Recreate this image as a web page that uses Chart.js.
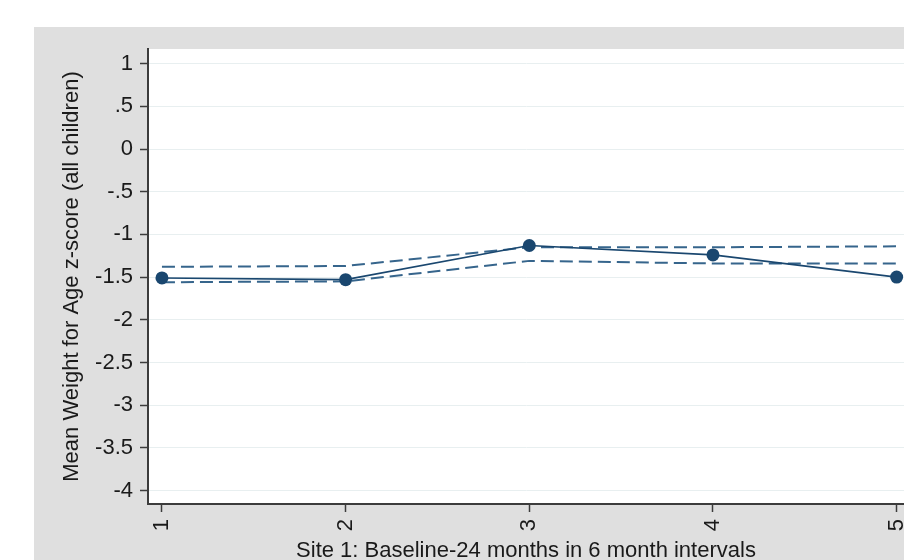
<!DOCTYPE html>
<html>
<head>
<meta charset="utf-8">
<script src="https://cdn.jsdelivr.net/npm/chart.js@4/dist/chart.umd.min.js"></script>
<style>
  html, body { margin: 0; padding: 0; background: #fff; overflow: hidden; }
  canvas { display: block; }
</style>
</head>
<body>
<canvas id="c" width="904" height="560"></canvas>
<script>
// Six-month follow-up intervals (1 = baseline)
const intervals = [1, 2, 3, 4, 5];
// Mean weight-for-age z-score and its band
const meanWAZ   = [-1.51, -1.53, -1.13, -1.24, -1.50];
const upperBand = [-1.38, -1.37, -1.15, -1.15, -1.14];
const lowerBand = [-1.56, -1.55, -1.31, -1.34, -1.34];
// Axis ticks
const yTickValues = [1, 0.5, 0, -0.5, -1, -1.5, -2, -2.5, -3, -3.5, -4];
const yTickLabels = ['1', '.5', '0', '-.5', '-1', '-1.5', '-2', '-2.5', '-3', '-3.5', '-4'];
const xTickLabels = ['1', '2', '3', '4', '5'];

const FONT = "'Liberation Sans', Arial, sans-serif";
const TEXT = '#1a1a1a';
const AXIS = '#3c3c3c';
const NAVY = '#1a476f';

const toPoints = vals => intervals.map((x, i) => ({ x, y: vals[i] }));

// Gray outer panel and white plot region
const panels = {
  id: 'panels',
  beforeDraw(chart) {
    const { ctx, chartArea: a } = chart;
    ctx.save();
    ctx.fillStyle = '#ffffff';
    ctx.fillRect(0, 0, chart.width, chart.height);
    ctx.fillStyle = '#dfdfdf';
    ctx.fillRect(34, 27, chart.width - 34, chart.height - 27);
    ctx.fillStyle = '#ffffff';
    ctx.fillRect(a.left, a.top, a.right - a.left, a.bottom - a.top);
    ctx.restore();
  }
};

new Chart(document.getElementById('c'), {
  type: 'line',
  data: {
    datasets: [
      {
        data: toPoints(meanWAZ),
        borderColor: NAVY,
        backgroundColor: NAVY,
        borderWidth: 1.6,
        pointRadius: 6.5,
        pointBorderWidth: 0,
        tension: 0,
        order: 0
      },
      {
        data: toPoints(upperBand),
        borderColor: '#36658c',
        borderWidth: 2,
        borderDash: [13, 6],
        pointRadius: 0,
        tension: 0,
        order: 1
      },
      {
        data: toPoints(lowerBand),
        borderColor: '#36658c',
        borderWidth: 2,
        borderDash: [13, 6],
        pointRadius: 0,
        tension: 0,
        order: 2
      }
    ]
  },
  options: {
    responsive: false,
    animation: false,
    events: [],
    layout: { autoPadding: false, padding: { top: 49, left: 0, right: 0, bottom: 0 } },
    plugins: { legend: { display: false }, tooltip: { enabled: false } },
    scales: {
      x: {
        type: 'linear',
        min: 0.924,
        max: 5.04,
        afterBuildTicks: s => { s.ticks = intervals.map(v => ({ value: v })); },
        afterFit: s => { s.height = 56; s.paddingLeft = 0; s.paddingRight = 0; },
        ticks: {
          minRotation: 90,
          maxRotation: 90,
          padding: 7,
          color: TEXT,
          font: { family: FONT, size: 22 },
          callback: (v, i) => xTickLabels[i]
        },
        grid: {
          drawOnChartArea: false,
          drawTicks: true,
          tickLength: 8,
          tickColor: AXIS,
          tickWidth: 1.5
        },
        border: { color: AXIS, width: 2 },
        title: {
          display: true,
          text: 'Site 1: Baseline-24 months in 6 month intervals',
          color: TEXT,
          font: { family: FONT, size: 22, lineHeight: 1 },
          padding: { top: 0, bottom: -2 }
        }
      },
      y: {
        min: -4.158,
        max: 1.172,
        afterBuildTicks: s => { s.ticks = yTickValues.map(v => ({ value: v })); },
        afterFit: s => { s.width = 148; s.paddingTop = 0; s.paddingBottom = 0; },
        ticks: {
          padding: 7,
          color: TEXT,
          font: { family: FONT, size: 22 },
          callback: (v, i) => yTickLabels[i]
        },
        grid: {
          color: '#e8eff0',
          lineWidth: 1,
          drawTicks: true,
          tickLength: 8,
          tickColor: AXIS,
          tickWidth: 1.5
        },
        border: { color: AXIS, width: 2 },
        title: {
          display: true,
          text: 'Mean Weight for Age z-score (all children)',
          color: TEXT,
          font: { family: FONT, size: 22, lineHeight: 1 },
          padding: { top: 61, bottom: 0 }
        }
      }
    }
  },
  plugins: [panels]
});
</script>
</body>
</html>
